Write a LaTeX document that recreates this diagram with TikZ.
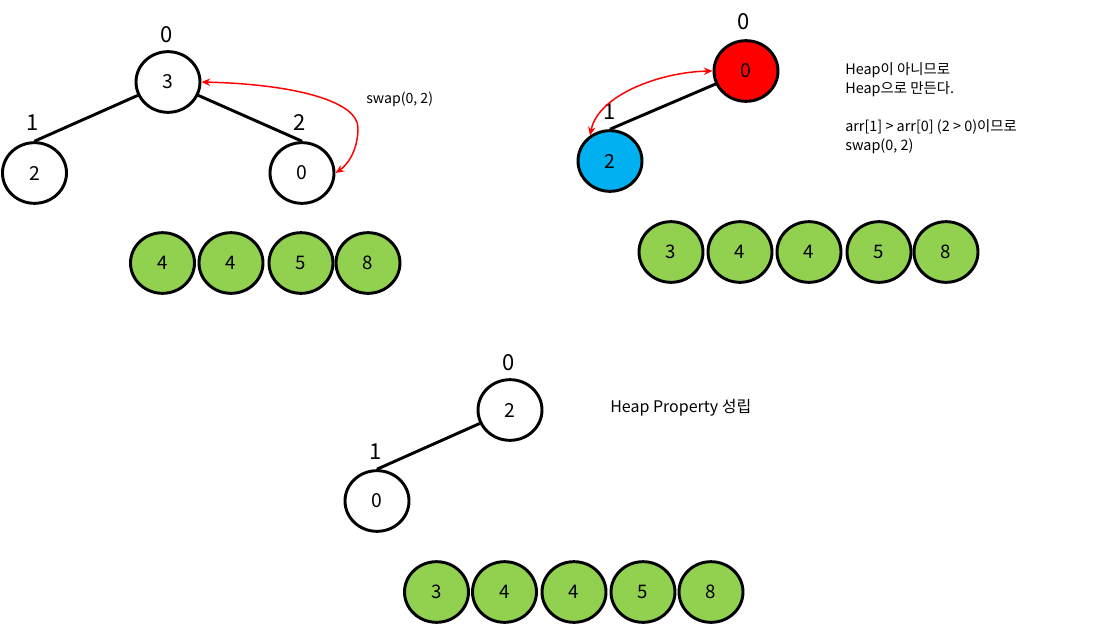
\documentclass[tikz,border=0pt]{standalone}
\usepackage{fontspec}
\setmainfont{Noto Sans CJK KR}
\usetikzlibrary{shapes.geometric,arrows.meta}
\definecolor{hgreen}{RGB}{146,208,80}
\definecolor{hblue}{RGB}{0,176,240}
\definecolor{hred}{RGB}{255,0,0}
\tikzset{
  tnode/.style={ellipse,draw=black,line width=2.2pt,fill=white,minimum width=48pt,minimum height=45.5pt,inner sep=0pt,font=\fontsize{14.5}{16}\selectfont},
  anode/.style={tnode,fill=hgreen,font=\fontsize{14}{16}\selectfont},
  idx/.style={font=\fontsize{16.5}{18}\selectfont,inner sep=0pt},
  edge/.style={line width=2.2pt},
  swaparrow/.style={draw=hred,line width=1.1pt,{Stealth[length=6.5pt,width=5.5pt]}-{Stealth[length=6.5pt,width=5.5pt]}},
  note/.style={font=\fontsize{10.8}{13}\selectfont,anchor=west,inner sep=0pt}
}
\begin{document}
\begin{tikzpicture}[x=0.75pt,y=-0.75pt]
\useasboundingbox (0,0) rectangle (1114,625);
% ---------- top-left tree ----------
\node[tnode] (a0) at (168,82) {3};
\node[tnode] (a1) at (34.5,173) {2};
\node[tnode] (a2) at (302,173) {0};
\node[idx] (la0) at (167,35) {0};
\node[idx] (la1) at (33,123) {1};
\node[idx] (la2) at (300,123) {2};
\draw[edge] (a0) -- (a1.north);
\draw[edge] (a0) -- (a2.north);
\draw[swaparrow] (a0.east) .. controls (290,84) and (358,100) .. (358,128) .. controls (358,152) and (346,166) .. (a2.east);
\node[note,font=\fontsize{10.6}{12}\selectfont] (sa) at (366,99) {swap(0, 2)};
% array 1
\node[anode] (p1) at (162.5,263) {4};
\node[anode] (p2) at (231,263) {4};
\node[anode] (p3) at (301,263) {5};
\node[anode] (p4) at (368,263) {8};
% ---------- top-right tree ----------
\node[tnode,fill=hred] (b0) at (746,71) {0};
\node[tnode,fill=hblue] (b1) at (610,161) {2};
\node[idx] (lb0) at (744,22) {0};
\node[idx] (lb1) at (610,112) {1};
\draw[edge] (b0) -- (b1.north);
\draw[swaparrow] (b0.west) .. controls (660,72) and (598,95) .. (b1.128);
\node[note] (t1) at (845,70) {Heap이 아니므로};
\node[note] (t2) at (845,89) {Heap으로 만든다.};
\node[note] (t3) at (845,127) {arr[1] > arr[0] (2 > 0)이므로};
\node[note] (t4) at (845,146) {swap(0, 2)};
% array 2
\node[anode] (q1) at (671,252) {3};
\node[anode] (q2) at (740,252) {4};
\node[anode] (q3) at (809,252) {4};
\node[anode] (q4) at (879,252) {5};
\node[anode] (q5) at (946,252) {8};
% ---------- bottom tree ----------
\node[tnode] (c0) at (510,410) {2};
\node[tnode] (c1) at (377,501) {0};
\node[idx] (lc0) at (509,363) {0};
\node[idx] (lc1) at (376,452) {1};
\draw[edge] (c0) -- (c1.north);
\node[note,font=\fontsize{12}{14}\selectfont] (t5) at (610,408) {Heap Property 성립};
% array 3
\node[anode] (r1) at (436.5,592) {3};
\node[anode] (r2) at (504.5,592) {4};
\node[anode] (r3) at (574,592) {4};
\node[anode] (r4) at (643,592) {5};
\node[anode] (r5) at (711,592) {8};
\end{tikzpicture}
\end{document}
